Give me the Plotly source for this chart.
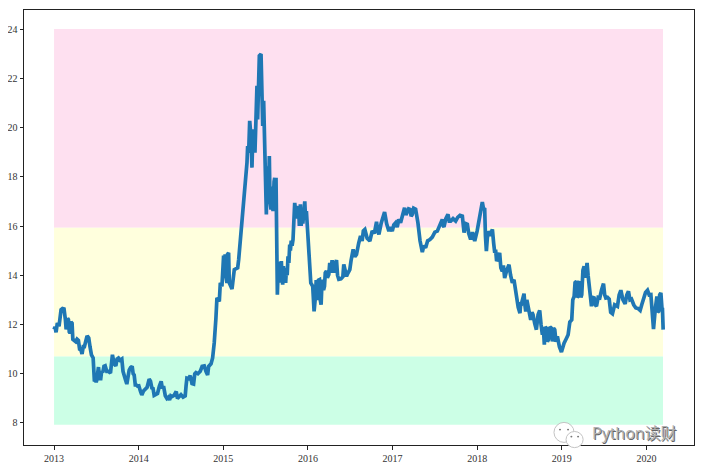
import pandas as pd
import plotly.graph_objects as go

# Time in decimal years
years = [
2013.000,2013.012,2013.024,2013.039,2013.059,2013.070,2013.083,2013.100,2013.118,2013.134,2013.143,2013.150,
2013.160,2013.170,2013.180,2013.189,2013.200,2013.213,2013.222,2013.229,2013.243,2013.256,2013.272,2013.288,
2013.302,2013.316,2013.331,2013.345,2013.359,2013.373,2013.387,2013.400,2013.410,2013.425,2013.442,2013.462,
2013.470,2013.477,2013.490,2013.498,2013.505,2013.515,2013.525,2013.540,2013.552,2013.562,2013.576,2013.590,
2013.604,2013.623,2013.643,2013.667,2013.680,2013.690,2013.710,2013.730,2013.745,2013.761,2013.780,2013.801,
2013.815,2013.828,2013.845,2013.860,2013.875,2013.888,2013.905,2013.923,2013.935,2013.947,2013.960,2013.970,
2013.986,2014.002,2014.020,2014.037,2014.057,2014.077,2014.100,2014.124,2014.140,2014.156,2014.170,2014.183,
2014.203,2014.223,2014.245,2014.266,2014.280,2014.294,2014.315,2014.333,2014.350,2014.365,2014.380,2014.393,
2014.418,2014.444,2014.458,2014.471,2014.500,2014.525,2014.550,2014.560,2014.570,2014.590,2014.609,2014.630,
2014.649,2014.663,2014.677,2014.700,2014.728,2014.750,2014.775,2014.795,2014.815,2014.827,2014.838,2014.855,
2014.874,2014.893,2014.913,2014.925,2014.953,2014.965,2014.984,
2015.004,2015.012,2015.022,2015.030,2015.043,2015.050,2015.063,2015.071,
2015.103,2015.130,2015.170,2015.182,2015.193,2015.221,2015.241,2015.261,2015.280,2015.288,2015.300,
2015.312,2015.327,2015.339,2015.351,2015.374,2015.398,2015.406,2015.426,2015.446,2015.458,2015.466,2015.477,
2015.489,2015.509,2015.517,2015.525,2015.537,2015.544,2015.552,2015.564,2015.576,2015.588,2015.600,2015.608,
2015.616,2015.623,
2015.639,2015.645,2015.651,2015.660,2015.668,2015.676,2015.686,2015.694,2015.702,2015.710,2015.718,2015.727,
2015.737,2015.745,2015.755,2015.765,2015.775,2015.785,2015.793,2015.803,2015.813,2015.824,2015.832,2015.844,
2015.855,2015.871,2015.880,2015.890,2015.899,2015.905,2015.911,2015.920,2015.931,2015.940,2015.950,2015.963,
2015.972,2015.982,2015.998,2016.018,2016.034,2016.057,2016.073,
2016.089,2016.098,2016.107,2016.116,2016.125,2016.136,2016.146,2016.156,2016.165,2016.175,2016.185,2016.196,
2016.205,2016.219,2016.230,2016.247,2016.258,2016.270,2016.286,2016.300,2016.314,2016.326,2016.338,2016.350,
2016.365,2016.390,2016.413,2016.424,2016.440,2016.456,2016.475,2016.495,2016.510,2016.535,2016.555,2016.574,
2016.600,2016.622,2016.641,2016.655,2016.673,2016.700,2016.732,2016.760,2016.785,2016.811,2016.825,2016.839,
2016.865,2016.885,2016.906,2016.930,2016.957,2016.975,2016.997,
2017.015,2017.036,2017.055,2017.075,2017.095,2017.120,2017.142,2017.158,2017.174,2017.190,2017.206,2017.220,
2017.233,2017.250,2017.273,2017.287,2017.300,2017.325,2017.352,2017.370,2017.391,2017.415,2017.442,2017.470,
2017.500,2017.529,2017.560,2017.588,2017.600,2017.608,2017.630,2017.655,2017.670,2017.687,2017.715,2017.746,
2017.770,2017.797,2017.825,2017.835,2017.845,2017.865,2017.884,2017.900,2017.923,2017.945,2017.971,
2018.000,2018.022,2018.040,2018.061,2018.075,2018.089,2018.098,2018.109,2018.120,2018.132,2018.155,2018.180,
2018.195,2018.208,2018.218,2018.230,2018.248,2018.266,2018.280,2018.297,2018.310,2018.325,2018.350,2018.376,
2018.395,2018.416,2018.435,2018.450,2018.467,2018.485,2018.506,2018.515,2018.526,2018.540,2018.554,2018.564,
2018.574,2018.587,2018.601,2018.617,2018.633,2018.647,2018.660,2018.680,2018.700,2018.720,2018.739,2018.755,
2018.771,2018.782,2018.794,2018.806,2018.818,2018.830,2018.842,2018.860,2018.877,2018.889,2018.903,2018.917,
2018.932,2018.948,2018.972,2018.996,
2019.012,2019.027,2019.050,2019.075,2019.095,2019.118,2019.130,2019.146,2019.157,2019.173,2019.183,2019.193,
2019.205,2019.217,2019.226,2019.236,2019.250,2019.264,2019.274,2019.284,2019.299,2019.311,2019.323,2019.337,
2019.351,2019.366,2019.382,2019.396,2019.410,2019.430,2019.449,2019.470,2019.493,2019.507,2019.520,2019.540,
2019.560,2019.578,2019.599,2019.625,2019.658,2019.678,2019.698,2019.723,2019.749,2019.768,2019.788,2019.806,
2019.824,2019.850,2019.875,2019.900,2019.926,2019.945,2019.966,2019.990,
2020.013,2020.033,2020.053,2020.070,2020.084,2020.104,2020.124,2020.134,2020.144,2020.157,2020.171,2020.185,
2020.190,2020.198]

values = [
11.80,11.90,11.68,12.06,11.93,12.40,12.60,12.65,12.63,12.20,11.80,11.93,
12.25,12.20,11.70,11.65,12.10,12.05,11.40,11.38,11.35,11.30,11.40,11.35,
11.00,10.98,10.80,11.10,11.10,11.35,11.49,11.50,11.45,11.10,10.77,10.64,
10.00,9.69,9.75,9.65,9.75,10.25,10.27,9.80,9.80,10.10,10.05,10.30,
10.32,10.10,10.10,10.03,10.50,10.77,10.40,10.32,10.60,10.64,10.55,10.60,
10.10,9.89,9.75,9.58,10.00,10.15,10.25,10.30,10.00,9.95,9.55,9.55,
9.50,9.51,9.30,9.14,9.30,9.35,9.45,9.78,9.70,9.42,9.40,9.12,
9.15,9.20,9.50,9.69,9.40,9.50,9.10,9.00,9.05,8.94,9.10,9.07,
9.12,9.28,9.00,9.05,9.15,9.05,9.10,9.50,9.82,9.80,9.92,9.60,
9.58,10.00,10.05,10.00,10.10,10.30,10.32,10.10,9.95,10.30,10.37,10.40,
10.64,11.25,12.26,13.08,12.94,13.69,13.55,
14.80,13.95,14.85,14.00,13.69,14.85,14.91,13.69,
13.44,14.23,14.30,14.64,15.04,16.26,16.94,17.76,18.57,19.25,18.98,
20.27,19.65,18.37,19.93,18.98,21.69,20.33,22.91,22.98,21.83,20.06,21.08,
18.57,16.47,18.43,16.90,17.60,18.84,17.00,16.67,17.60,16.60,17.80,17.96,
16.90,17.96,
13.21,14.20,14.50,13.70,14.55,13.90,14.57,14.00,13.62,14.37,13.90,14.30,
13.69,14.20,14.00,14.77,14.50,15.25,15.00,15.40,15.20,15.45,16.13,16.94,
16.60,16.81,16.30,16.75,16.00,16.60,16.88,16.00,16.60,16.10,16.80,17.00,
16.30,16.60,15.72,14.77,13.69,13.55,12.53,
13.14,13.80,13.00,13.14,13.80,13.82,13.00,12.80,13.60,13.82,13.40,13.55,
14.10,14.17,13.90,14.03,14.50,14.10,14.61,14.20,14.10,14.50,14.61,14.00,
13.83,13.85,13.94,14.44,14.10,13.96,14.10,14.23,14.60,15.05,14.75,14.84,
15.30,15.59,15.39,15.80,15.86,15.50,15.39,15.80,15.70,16.17,15.80,15.66,
16.10,16.35,16.57,16.10,15.79,15.95,15.79,
16.05,16.13,15.95,16.27,16.13,16.45,16.74,16.45,16.54,16.70,16.68,16.40,
16.47,16.72,16.68,16.45,16.13,15.40,14.94,15.20,15.12,15.40,15.45,15.55,
15.75,15.79,16.10,16.27,16.00,15.97,16.30,16.47,16.20,16.20,16.30,16.20,
16.35,16.43,16.40,15.90,15.73,16.10,16.07,15.70,15.45,15.75,15.39,
15.80,16.20,16.60,16.97,16.70,16.68,15.60,14.98,15.50,15.79,15.60,15.86,
15.30,14.91,15.04,14.57,14.70,14.91,14.30,14.16,14.40,13.89,14.20,14.43,
14.00,13.69,13.82,13.40,13.01,12.70,12.46,12.90,12.87,13.10,13.25,12.80,
12.53,13.00,12.74,12.40,12.19,12.50,12.40,12.05,11.79,12.40,12.57,12.00,
11.58,11.90,11.18,11.90,11.85,11.30,11.38,11.90,11.85,11.31,11.85,11.79,
11.30,11.52,11.10,10.88,
11.10,11.24,11.40,11.58,12.10,12.19,13.00,13.14,13.70,13.75,13.10,13.14,
13.70,13.69,13.10,13.21,14.20,14.36,13.90,14.09,14.50,14.00,13.69,13.10,
12.74,13.10,13.08,12.80,12.74,13.10,13.08,13.40,13.66,13.20,13.08,13.10,
13.03,12.50,12.44,12.80,12.74,13.20,13.39,13.00,12.84,13.20,13.35,13.00,
13.03,12.80,12.67,12.65,12.57,12.80,13.08,13.30,
13.39,13.20,13.21,12.60,11.81,12.60,13.14,12.50,12.53,13.20,13.28,12.60,
12.60,11.79]

band_edges = [24.0, 15.93, 10.70, 7.93]
band_colors = ["#FEE0F0", "#FFFFDD", "#CCFFE6"]
band_years = [2013.0, 2020.196]
year_ticks = [2013, 2014, 2015, 2016, 2017, 2018, 2019, 2020]
value_ticks = [8, 10, 12, 14, 16, 18, 20, 22, 24]


def to_date(y):
    return pd.Timestamp("2013-01-01") + pd.Timedelta(days=(y - 2013) * 365.25)


fig = go.Figure()

for i, color in enumerate(band_colors):
    fig.add_shape(type="rect", layer="below", line_width=0, fillcolor=color,
                  x0=to_date(band_years[0]), x1=to_date(band_years[1]),
                  y0=band_edges[i + 1], y1=band_edges[i])

fig.add_trace(go.Scatter(x=[to_date(y) for y in years], y=values, mode="lines",
                         line=dict(color="#1f77b4", width=3.7), hoverinfo="skip"))

# Watermark: two speech bubbles and the account name
bubble = dict(type="circle", xref="paper", yref="paper", fillcolor="white",
              line=dict(color="#c4c4c4", width=1))
fig.add_shape(**bubble, x0=0.791, x1=0.821, y0=0.006, y1=0.052)
fig.add_shape(**bubble, x0=0.809, x1=0.8345, y0=-0.006, y1=0.031)
eye = dict(type="circle", xref="paper", yref="paper", fillcolor="#777777", line_width=0)
fig.add_shape(**eye, x0=0.7985, x1=0.8015, y0=0.0335, y1=0.0375)
fig.add_shape(**eye, x0=0.8105, x1=0.8135, y0=0.0335, y1=0.0375)
fig.add_shape(**eye, x0=0.8155, x1=0.8185, y0=0.0175, y1=0.0215)
fig.add_shape(**eye, x0=0.8255, x1=0.8285, y0=0.0175, y1=0.0215)

fig.add_annotation(text="Python读财", xref="paper", yref="paper", x=0.9776, y=0.0,
                   xanchor="right", yanchor="bottom", showarrow=False, yshift=-1,
                   font=dict(family="Open Sans, Noto Sans CJK SC", size=16, color="#b0b0b0",
                             shadow="1px 1px 0 #666666"))

axis_style = dict(showgrid=False, zeroline=False, showline=True, mirror=True,
                  automargin=False,
                  linecolor="#222222", linewidth=1, ticks="outside", ticklen=3.5,
                  tickwidth=0.8, tickcolor="#222222",
                  tickfont=dict(family="Liberation Serif", size=10, color="#333333"))

# The page keeps an 8 px body margin, so the figure is 8 px smaller than the window
fig.update_layout(
    width=696, height=461, showlegend=False,
    paper_bgcolor="white", plot_bgcolor="white",
    margin=dict(l=16.3, r=9.7, t=2.3, b=23.7),
    xaxis=dict(type="date", range=[to_date(2012.645), to_date(2020.5625)],
               tickvals=[to_date(y) for y in year_ticks],
               ticktext=[str(y) for y in year_ticks], **axis_style),
    yaxis=dict(range=[7.106, 24.772], tickvals=value_ticks,
               ticktext=[str(v) for v in value_ticks], **axis_style),
)

assert len(years) == len(values), (len(years), len(values))
fig.write_html("out.html", config={"displayModeBar": False})
